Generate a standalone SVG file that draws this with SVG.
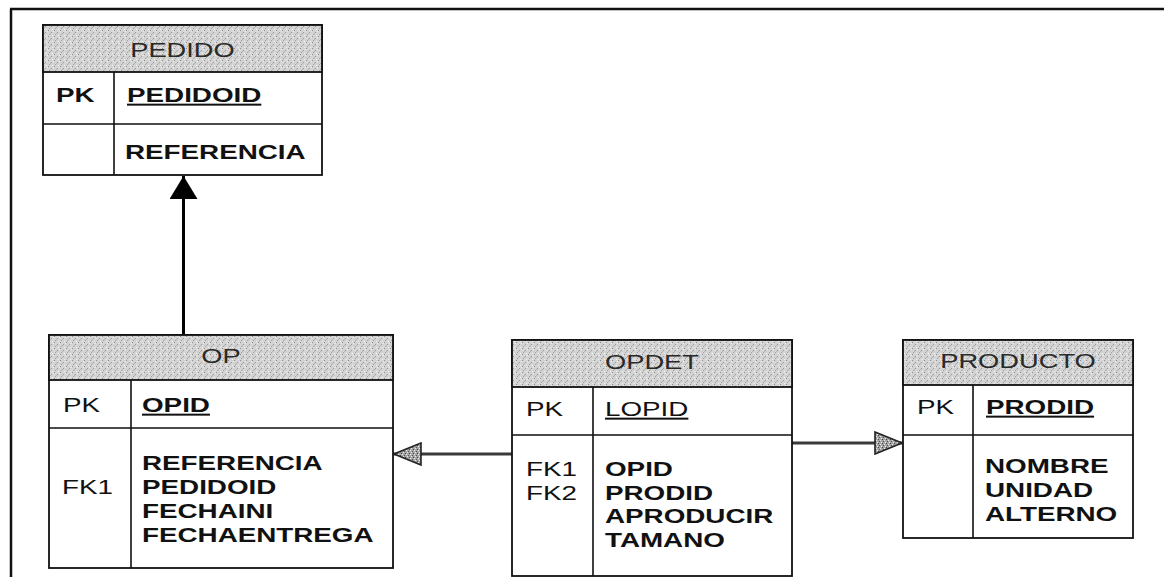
<svg xmlns="http://www.w3.org/2000/svg" width="1164" height="577" viewBox="0 0 1164 577">
  <defs>
    <!-- stippled grey used for table title bars -->
    <pattern id="stip" width="6" height="6" patternUnits="userSpaceOnUse">
      <rect width="6" height="6" fill="#d4d4d4"/>
      <rect x="0" y="0" width="1" height="1" fill="#8c8c8c"/>
      <rect x="3" y="2" width="1" height="1" fill="#9a9a9a"/>
      <rect x="1" y="4" width="1" height="1" fill="#a0a0a0"/>
      <rect x="4" y="5" width="1" height="1" fill="#f4f4f4"/>
      <rect x="5" y="1" width="1" height="1" fill="#f0f0f0"/>
      <rect x="2" y="3" width="1" height="1" fill="#b0b0b0"/>
    </pattern>
    <!-- darker stipple for the open relationship arrowheads -->
    <pattern id="stipDark" width="4" height="4" patternUnits="userSpaceOnUse">
      <rect width="4" height="4" fill="#a4a4a4"/>
      <rect x="0" y="0" width="1" height="1" fill="#444"/>
      <rect x="2" y="1" width="1" height="1" fill="#e8e8e8"/>
      <rect x="1" y="2" width="1" height="1" fill="#555"/>
      <rect x="3" y="3" width="1" height="1" fill="#f0f0f0"/>
    </pattern>
    <marker id="arrSolid" viewBox="0 0 23 28" refX="23" refY="14" markerWidth="23" markerHeight="28" markerUnits="userSpaceOnUse" orient="auto">
      <path d="M0,0 L23,14 L0,28 Z" fill="#000"/>
    </marker>
    <marker id="arrGrey" viewBox="0 0 29 24" refX="28" refY="12" markerWidth="29" markerHeight="24" markerUnits="userSpaceOnUse" orient="auto">
      <path d="M1,1 L28,12 L1,23 Z" fill="url(#stipDark)" stroke="#222" stroke-width="1.6"/>
    </marker>
  </defs>
  <style>
    .box { fill: #fff; stroke: #111; stroke-width: 1.8; }
    .head { fill: url(#stip); stroke: #111; stroke-width: 1.8; }
    .div { stroke: #111; stroke-width: 1.6; fill: none; }
    .title { font-family: "Liberation Sans", Arial, sans-serif; font-size: 21px; fill: #2a2a2a; text-anchor: middle; }
    .fb { font-family: "Liberation Sans", Arial, sans-serif; font-size: 20px; font-weight: bold; fill: #111; }
    .fr { font-family: "Liberation Sans", Arial, sans-serif; font-size: 20px; fill: #111; }
    .u { text-decoration: underline; }
    .frame { stroke: #111; stroke-width: 2.5; fill: none; }
    .rel { stroke: #3a3a3a; stroke-width: 3; fill: none; }
  </style>

  <rect width="1164" height="577" fill="#fff"/>

  <!-- outer frame (top and left edges) -->
  <path class="frame" d="M10,9 H1164 M11,9 V577"/>

  <!-- relationships -->
  <g id="connectors">
    <line x1="183.5" y1="335" x2="183.5" y2="176" stroke="#000" stroke-width="3" marker-end="url(#arrSolid)"/>
    <line class="rel" x1="512" y1="454" x2="394" y2="454" marker-end="url(#arrGrey)"/>
    <line class="rel" x1="792" y1="443" x2="902" y2="443" marker-end="url(#arrGrey)"/>
  </g>

  <!-- PEDIDO table -->
  <g id="pedido">
    <rect class="box" x="43" y="25" width="279" height="150"/>
    <rect class="head" x="43" y="25" width="279" height="47"/>
    <path class="div" d="M43,124 H322 M114,72 V175"/>
    <text class="title" transform="translate(182.5 57) scale(1.3 1)">PEDIDO</text>
    <text class="fb" transform="translate(56 102) scale(1.39 1)">PK</text>
    <text class="fb u" transform="translate(127 102) scale(1.39 1)">PEDIDOID</text>
    <text class="fb" transform="translate(125 159) scale(1.39 1)">REFERENCIA</text>
  </g>

  <!-- OP table -->
  <g id="op">
    <rect class="box" x="49" y="335" width="344" height="233"/>
    <rect class="head" x="49" y="335" width="344" height="45"/>
    <path class="div" d="M49,428 H393 M131,380 V568"/>
    <text class="title" transform="translate(221 363) scale(1.3 1)">OP</text>
    <text class="fr" transform="translate(63 412) scale(1.39 1)">PK</text>
    <text class="fb u" transform="translate(142 412) scale(1.39 1)">OPID</text>
    <text class="fr" transform="translate(62 494) scale(1.39 1)">FK1</text>
    <text class="fb" transform="translate(142 470) scale(1.39 1)">REFERENCIA</text>
    <text class="fb" transform="translate(142 494) scale(1.39 1)">PEDIDOID</text>
    <text class="fb" transform="translate(142 518) scale(1.39 1)">FECHAINI</text>
    <text class="fb" transform="translate(142 542) scale(1.39 1)">FECHAENTREGA</text>
  </g>

  <!-- OPDET table -->
  <g id="opdet">
    <rect class="box" x="512" y="340" width="280" height="236"/>
    <rect class="head" x="512" y="340" width="280" height="47"/>
    <path class="div" d="M512,435 H792 M593,387 V576"/>
    <text class="title" transform="translate(652 369) scale(1.3 1)">OPDET</text>
    <text class="fr" transform="translate(526 416) scale(1.39 1)">PK</text>
    <text class="fr u" transform="translate(605 416) scale(1.39 1)">LOPID</text>
    <text class="fr" transform="translate(526 476) scale(1.39 1)">FK1</text>
    <text class="fr" transform="translate(526 499.5) scale(1.39 1)">FK2</text>
    <text class="fb" transform="translate(605 476) scale(1.39 1)">OPID</text>
    <text class="fb" transform="translate(605 499.5) scale(1.39 1)">PRODID</text>
    <text class="fb" transform="translate(605 523) scale(1.39 1)">APRODUCIR</text>
    <text class="fb" transform="translate(605 546.5) scale(1.39 1)">TAMANO</text>
  </g>

  <!-- PRODUCTO table -->
  <g id="producto">
    <rect class="box" x="903" y="340" width="230" height="198"/>
    <rect class="head" x="903" y="340" width="230" height="45"/>
    <path class="div" d="M903,435 H1133 M973,385 V538"/>
    <text class="title" transform="translate(1018 368) scale(1.3 1)">PRODUCTO</text>
    <text class="fr" transform="translate(917 414) scale(1.39 1)">PK</text>
    <text class="fb u" transform="translate(986 414) scale(1.39 1)">PRODID</text>
    <text class="fb" transform="translate(985 473) scale(1.39 1)">NOMBRE</text>
    <text class="fb" transform="translate(985 497) scale(1.39 1)">UNIDAD</text>
    <text class="fb" transform="translate(985 521) scale(1.39 1)">ALTERNO</text>
  </g>
</svg>
